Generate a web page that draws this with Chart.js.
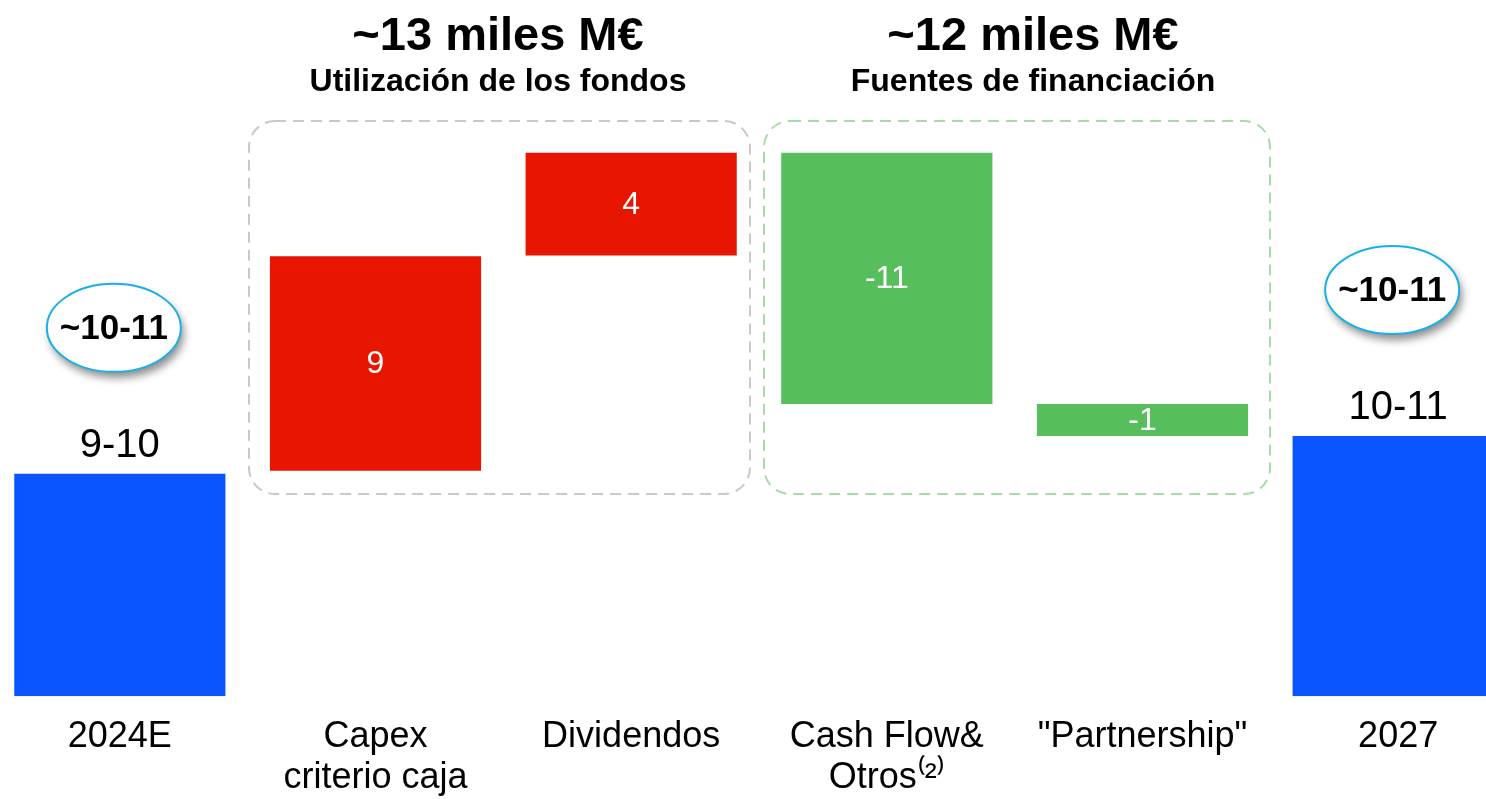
<!DOCTYPE html>
<html>
<head>
<meta charset="utf-8">
<script src="https://cdn.jsdelivr.net/npm/chart.js@4.4.1/dist/chart.umd.min.js"></script>
<style>
  html, body { margin: 0; padding: 0; background: #fff; overflow: hidden; }
  #caja { position: absolute; left: -8px; top: 0; width: 1534px; height: 823px; }
</style>
</head>
<body>
<div id="caja"><canvas id="graficoCascada"></canvas></div>
<script>
// categorias del eje
const categorias = ["2024E", ["Capex", "criterio caja"], "Dividendos", ["Cash Flow&", "Otros⁽²⁾"], "\"Partnership\"", "2027"];

// tramo de cada barra (miles M€)
const inicio = [0, 9.46, 18.49, 12.26, 10.92, 0];
const fin = [9.33, 18.45, 22.8, 22.8, 12.26, 10.92];

// textos de las barras
const etiquetas = ["9-10", "9", "4", "-11", "-1", "10-11"];
const etiquetasCirculo = ["~10-11", null, null, null, null, "~10-11"];

const colores = ["#0a55ff", "#e81500", "#e81500", "#57be5d", "#57be5d", "#0a55ff"];

const titulos = [
    { grande: "~13 miles M€", peque: "Utilización de los fondos", x: 498 },
    { grande: "~12 miles M€", peque: "Fuentes de financiación", x: 1033 }
];

const OFF = 8; // el canvas empieza 8px a la izquierda
const FUENTE = "'Liberation Sans', Arial, sans-serif";

function cajaDiscontinua(ctx, x1, y1, x2, y2, color) {
    ctx.save();
    ctx.strokeStyle = color;
    ctx.lineWidth = 2;
    ctx.setLineDash([11, 7]);
    ctx.beginPath();
    ctx.roundRect(x1 + OFF, y1, x2 - x1, y2 - y1, 26);
    ctx.stroke();
    ctx.restore();
}

const extras = {
    id: "extras",
    afterDatasetsDraw(chart) {
        const ctx = chart.ctx;
        const meta = chart.getDatasetMeta(0);

        cajaDiscontinua(ctx, 249, 121, 750, 494, "#c9c9c9");
        cajaDiscontinua(ctx, 764, 121, 1270, 494, "#a6dca8");

        ctx.save();
        ctx.textAlign = "center";
        ctx.textBaseline = "middle";
        ctx.fillStyle = "#000";
        titulos.forEach(t => {
            ctx.font = "bold 47px " + FUENTE;
            ctx.fillText(t.grande, t.x + OFF, 37);
            ctx.font = "bold 32px " + FUENTE;
            ctx.fillText(t.peque, t.x + OFF, 82);
        });

        meta.data.forEach((bar, i) => {
            const arriba = Math.min(bar.y, bar.base);
            const abajo = Math.max(bar.y, bar.base);
            if (inicio[i] === 0) {
                ctx.fillStyle = "#000";
                ctx.font = "40px " + FUENTE;
                ctx.fillText(etiquetas[i], bar.x, arriba - 28);
            } else {
                ctx.fillStyle = "#fff";
                ctx.font = "32px " + FUENTE;
                ctx.fillText(etiquetas[i], bar.x, (arriba + abajo) / 2 + 1);
            }
            if (etiquetasCirculo[i]) {
                const cy = arriba - 146;
                ctx.save();
                ctx.shadowColor = "rgba(0,0,0,0.45)";
                ctx.shadowBlur = 9;
                ctx.shadowOffsetX = 3;
                ctx.shadowOffsetY = 6;
                ctx.fillStyle = "#fff";
                ctx.beginPath();
                ctx.ellipse(bar.x - 6, cy, 67, 44, 0, 0, Math.PI * 2);
                ctx.fill();
                ctx.restore();
                ctx.strokeStyle = "#1aafe6";
                ctx.lineWidth = 2;
                ctx.beginPath();
                ctx.ellipse(bar.x - 6, cy, 67, 44, 0, 0, Math.PI * 2);
                ctx.stroke();
                ctx.fillStyle = "#000";
                ctx.font = "bold 35px " + FUENTE;
                ctx.fillText(etiquetasCirculo[i], bar.x - 6, cy + 1);
            }
        });
        ctx.restore();
    }
};

new Chart(document.getElementById("graficoCascada"), {
    type: "bar",
    data: {
        labels: categorias,
        datasets: [{
            data: inicio.map((v, i) => [v, fin[i]]),
            backgroundColor: colores,
            borderWidth: 0,
            barPercentage: 0.826,
            categoryPercentage: 1
        }]
    },
    options: {
        responsive: true,
        maintainAspectRatio: false,
        animation: false,
        layout: { padding: { top: 0, bottom: 4, left: 0, right: 0 } },
        plugins: {
            legend: { display: false },
            tooltip: { enabled: false }
        },
        scales: {
            x: {
                grid: { display: false, drawTicks: false },
                border: { display: false },
                ticks: {
                    color: "#000",
                    font: { family: FUENTE, size: 36, lineHeight: 1.12 },
                    padding: 21,
                    maxRotation: 0,
                    autoSkip: false
                }
            },
            y: {
                display: false,
                min: 0,
                max: 29.2
            }
        }
    },
    plugins: [extras]
});
</script>
</body>
</html>
